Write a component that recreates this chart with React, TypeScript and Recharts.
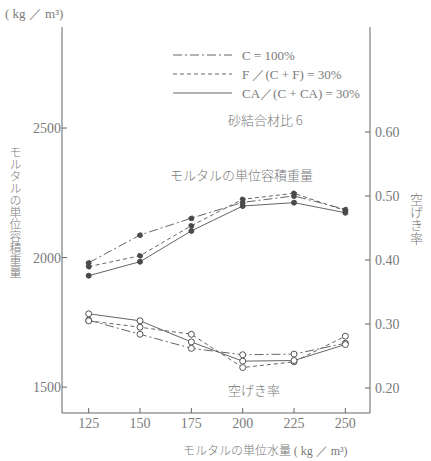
import { Legend, Line, LineChart, XAxis, YAxis } from 'recharts';

const WATER = [125, 150, 175, 200, 225, 250];

// unit weight of mortar (kg/m³), left axis
const WEIGHT_C = [1980, 2087, 2152, 2213, 2238, 2186];
const WEIGHT_F = [1965, 2007, 2123, 2225, 2248, 2181];
const WEIGHT_CA = [1930, 1984, 2103, 2199, 2212, 2173];

// void ratio, right axis
const VOID_C = [0.306, 0.284, 0.262, 0.252, 0.253, 0.27];
const VOID_F = [0.305, 0.295, 0.284, 0.232, 0.241, 0.281];
const VOID_CA = [0.316, 0.305, 0.272, 0.242, 0.243, 0.268];

const LEFT_TICKS = [1500, 2000, 2500];
const RIGHT_TICKS = [0.2, 0.3, 0.4, 0.5, 0.6];

const SERIES = [
  { key: 'c', label: 'C = 100%', dash: '9 3 2 3' },
  { key: 'f', label: 'F ／(C + F) = 30%', dash: '4 3' },
  { key: 'ca', label: 'CA／(C + CA) = 30%', dash: undefined },
];

const rows = WATER.map((w, i) => ({
  w,
  wc: WEIGHT_C[i],
  wf: WEIGHT_F[i],
  wca: WEIGHT_CA[i],
  vc: VOID_C[i],
  vf: VOID_F[i],
  vca: VOID_CA[i],
}));

const INK = '#666';
const TEXT = '#7a7a7a';
const SERIF = '"Liberation Serif", "DejaVu Serif", serif';
const JP = '"Noto Sans CJK JP", sans-serif';

const numTick = { fill: TEXT, fontSize: 14, fontFamily: SERIF };

function LegendBox() {
  return (
    <svg width={230} height={60}>
      {SERIES.map((s, i) => (
        <g key={s.key}>
          <line x1={3} x2={62} y1={8 + i * 19} y2={8 + i * 19} stroke={INK} strokeDasharray={s.dash} />
          <text x={72} y={8 + i * 19} dy="0.35em" fill={TEXT} fontSize={13} fontFamily={SERIF}>
            {s.label}
          </text>
        </g>
      ))}
    </svg>
  );
}

const note = (left: number, top: number, size: number): React.CSSProperties => ({
  position: 'absolute',
  left,
  top,
  fontSize: size,
  fontFamily: JP,
  fontWeight: 300,
  color: TEXT,
  whiteSpace: 'nowrap',
  lineHeight: 1,
});

export default function App() {
  return (
    <div style={{ position: 'absolute', left: 0, top: 0, width: 431, height: 461, background: '#fff' }}>
      <LineChart width={431} height={461} data={rows} margin={{ top: 27, right: 0, bottom: 0, left: 0 }}>
        <XAxis
          dataKey="w"
          type="number"
          domain={[112, 262]}
          ticks={WATER}
          height={48}
          stroke={INK}
          tickSize={-5}
          tickMargin={10}
          tick={numTick}
        />
        <XAxis xAxisId="top" orientation="top" dataKey="w" type="number" domain={[112, 262]} height={0} tick={false} tickLine={false} stroke={INK} />
        <YAxis
          yAxisId="left"
          domain={[1400, 2890]}
          ticks={LEFT_TICKS}
          width={62}
          stroke={INK}
          tickSize={-5}
          tickMargin={6}
          tick={numTick}
        />
        <YAxis
          yAxisId="right"
          orientation="right"
          domain={[0.161, 0.764]}
          ticks={RIGHT_TICKS}
          width={61}
          stroke={INK}
          tickSize={-5}
          tickMargin={10}
          tick={numTick}
          tickFormatter={(v: number) => v.toFixed(2)}
        />
        <Legend
          layout="vertical"
          align="center"
          verticalAlign="middle"
          wrapperStyle={{ left: 170, top: 47, width: 230 }}
          content={() => <LegendBox />}
        />
        {SERIES.map((s) => (
          <Line
            key={'w' + s.key}
            yAxisId="left"
            dataKey={'w' + s.key}
            stroke={INK}
            strokeWidth={1}
            strokeDasharray={s.dash}
            dot={{ r: 2.5, fill: '#4a4a4a', stroke: '#4a4a4a', strokeWidth: 1 }}
            isAnimationActive={false}
          />
        ))}
        {SERIES.map((s) => (
          <Line
            key={'v' + s.key}
            yAxisId="right"
            dataKey={'v' + s.key}
            stroke={INK}
            strokeWidth={1}
            strokeDasharray={s.dash}
            dot={{ r: 3, fill: '#fff', stroke: '#555', strokeWidth: 1, strokeDasharray: '' }}
            isAnimationActive={false}
          />
        ))}
      </LineChart>
      <div style={{ ...note(5, 7, 13), fontFamily: SERIF, fontWeight: 400 }}>( kg ／ m³)</div>
      <div style={{ ...note(9, 146, 12), writingMode: 'vertical-rl' }}>モルタルの単位容積重量</div>
      <div style={{ ...note(410, 193, 13), writingMode: 'vertical-rl' }}>空げき率</div>
      <div style={note(228, 113, 13)}>砂結合材比 6</div>
      <div style={note(170, 168, 13)}>モルタルの単位容積重量</div>
      <div style={note(228, 383, 13)}>空げき率</div>
      <div style={note(183, 444, 12)}>
        モルタルの単位水量 <span style={{ fontFamily: SERIF, fontWeight: 400 }}>( kg ／ m³)</span>
      </div>
    </div>
  );
}
